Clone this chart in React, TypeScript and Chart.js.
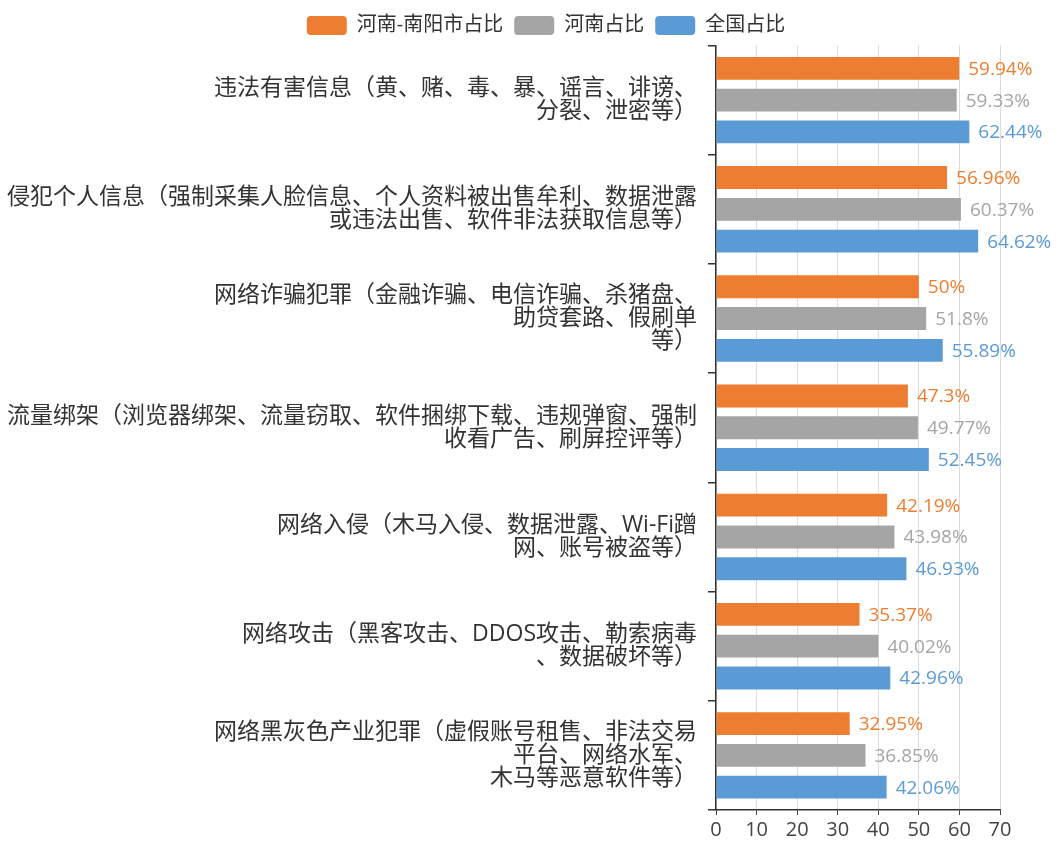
import React, { useEffect, useRef } from "react";
import { Chart, registerables } from "chart.js";

Chart.register(...registerables);

const categories: string[][] = [
  ["违法有害信息（黄、赌、毒、暴、谣言、诽谤、", "分裂、泄密等）"],
  ["侵犯个人信息（强制采集人脸信息、个人资料被出售牟利、数据泄露", "或违法出售、软件非法获取信息等）"],
  ["网络诈骗犯罪（金融诈骗、电信诈骗、杀猪盘、", "助贷套路、假刷单", "等）"],
  ["流量绑架（浏览器绑架、流量窃取、软件捆绑下载、违规弹窗、强制", "收看广告、刷屏控评等）"],
  ["网络入侵（木马入侵、数据泄露、Wi-Fi蹭", "网、账号被盗等）"],
  ["网络攻击（黑客攻击、DDOS攻击、勒索病毒", "、数据破坏等）"],
  ["网络黑灰色产业犯罪（虚假账号租售、非法交易", "平台、网络水军、", "木马等恶意软件等）"],
];

const seriesNames = ["河南-南阳市占比", "河南占比", "全国占比"];
const nanyangValues = [59.94, 56.96, 50, 47.3, 42.19, 35.37, 32.95];
const henanValues = [59.33, 60.37, 51.8, 49.77, 43.98, 40.02, 36.85];
const nationalValues = [62.44, 64.62, 55.89, 52.45, 46.93, 42.96, 42.06];
const seriesColors = ["#ED7D31", "#A5A5A5", "#5B9BD5"];
const xMin = 0;
const xMax = 70;
const xStep = 10;

const FONT = '"Open Sans", "Noto Sans CJK SC", sans-serif';

const valueLabelPlugin = {
  id: "valueLabels",
  afterDatasetsDraw(chart: any) {
    const ctx = chart.ctx;
    ctx.save();
    ctx.font = `19px ${FONT}`;
    ctx.textAlign = "left";
    ctx.textBaseline = "middle";
    chart.data.datasets.forEach((ds: any, di: number) => {
      const meta = chart.getDatasetMeta(di);
      if (meta.hidden) return;
      ctx.fillStyle = ds.labelColor;
      meta.data.forEach((el: any, i: number) => {
        ctx.fillText(`${ds.data[i]}%`, el.x + 9, el.y + 1);
      });
    });
    ctx.restore();
  },
};

const legendShiftPlugin = {
  id: "legendShift",
  afterLayout(chart: any) {
    if (chart.legend) {
      chart.legend.left += 33;
    }
  },
};

export default function App() {
  const ref = useRef<HTMLCanvasElement | null>(null);
  useEffect(() => {
    if (!ref.current) return;
    const values = [nanyangValues, henanValues, nationalValues];
    const chart = new Chart(ref.current, {
      type: "bar",
      data: {
        labels: categories as any,
        datasets: values.map((v, i) => ({
          label: seriesNames[i],
          data: v,
          backgroundColor: seriesColors[i],
          labelColor: seriesColors[i],
          categoryPercentage: 0.873,
          barPercentage: 0.72,
        })) as any,
      },
      options: {
        indexAxis: "y",
        animation: false,
        responsive: true,
        maintainAspectRatio: false,
        layout: { padding: { left: 0, right: 0, top: 1, bottom: 3 } },
        plugins: {
          legend: {
            position: "top",
            labels: {
              boxWidth: 40,
              boxHeight: 19,
              useBorderRadius: true,
              borderRadius: 4,
              padding: 11,
              color: "#333",
              font: { size: 20, family: FONT },
            },
          },
          tooltip: { enabled: false },
        },
        scales: {
          x: {
            min: xMin,
            max: xMax,
            ticks: {
              stepSize: xStep,
              color: "#444",
              padding: 3,
              font: { size: 20, family: FONT },
            },
            grid: {
              color: "#dcdcdc",
              tickColor: "#444",
              tickLength: 5,
            },
            border: { color: "#333", width: 1.5 },
            afterFit: (scale: any) => {
              scale.paddingRight = 59;
            },
          },
          y: {
            ticks: {
              color: "#333",
              padding: 11,
              font: { size: 23, family: FONT, lineHeight: 1.0 },
              autoSkip: false,
            },
            grid: {
              drawOnChartArea: false,
              drawTicks: true,
              tickLength: 8,
              tickColor: "#333",
              offset: true,
              lineWidth: 1.5,
            },
            border: { color: "#333", width: 1.5 },
            afterFit: (scale: any) => {
              scale.width = 716;
            },
          },
        },
      } as any,
      plugins: [valueLabelPlugin, legendShiftPlugin],
    });
    return () => chart.destroy();
  }, []);
  return (
    <div style={{ position: "absolute", left: 0, top: 0, width: 1059, height: 848, background: "#fff" }}>
      <canvas ref={ref} />
    </div>
  );
}
